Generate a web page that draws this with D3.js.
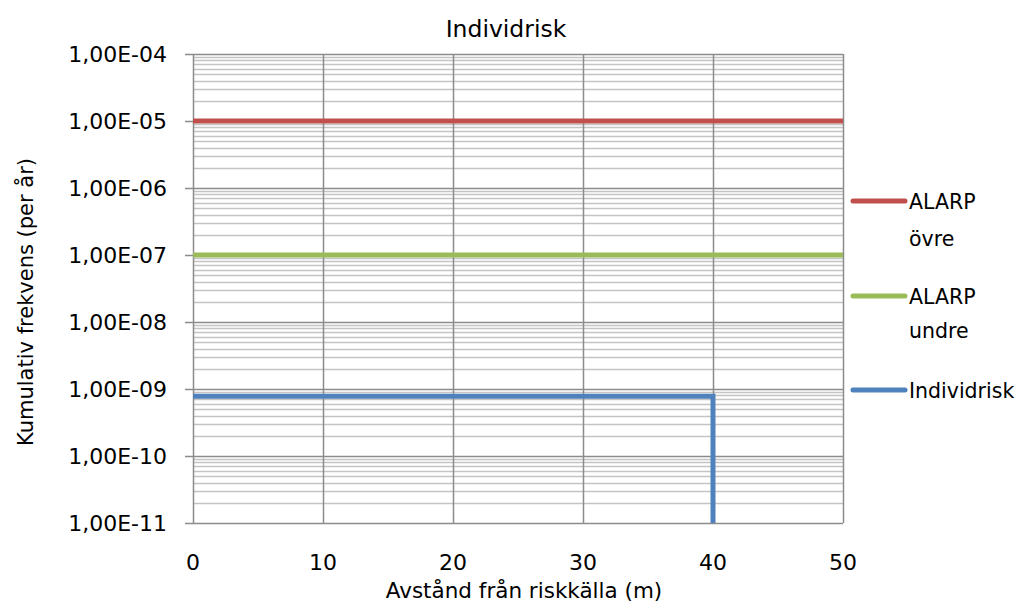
<!doctype html>
<html>
<head>
<meta charset="utf-8" />
<title>Individrisk</title>
<script src="https://d3js.org/d3.v7.min.js"></script>
<style>
  body { margin: 0; background: #fff; }
  svg text { font-family: "DejaVu Sans", sans-serif; fill: #000; }
</style>
</head>
<body>
<svg width="1017" height="609"></svg>
<script>
// data
var xTicks = [0, 10, 20, 30, 40, 50];
var yTicks = [1e-4, 1e-5, 1e-6, 1e-7, 1e-8, 1e-9, 1e-10, 1e-11];
var yTickLabels = ["1,00E-04", "1,00E-05", "1,00E-06", "1,00E-07", "1,00E-08", "1,00E-09", "1,00E-10", "1,00E-11"];
var alarpOvre = [[0, 1e-5], [50, 1e-5]];
var alarpUndre = [[0, 1e-7], [50, 1e-7]];
var individrisk = [[0, 7.8e-10], [40, 7.8e-10], [40, 1e-11]];
var colors = ["#C0504D", "#9BBB59", "#4F81BD"];

var svg = d3.select("svg");
var m = {left: 193, right: 843, top: 54, bottom: 523};

var x = d3.scaleLinear().domain([0, 50]).range([m.left, m.right]);
var y = d3.scaleLog().domain([1e-11, 1e-4]).range([m.bottom, m.top]);

// minor grid lines
var minor = [];
yTicks.slice(1).forEach(function(d) {
    for (var k = 2; k <= 9; k++) minor.push(d * k);
});
svg.append("g").selectAll("line").data(minor).enter().append("line")
  .attr("x1", m.left).attr("x2", m.right)
  .attr("y1", d => Math.round(y(d)) + 0.5).attr("y2", d => Math.round(y(d)) + 0.5)
  .style("stroke", "#c4c4c4").style("stroke-width", 1.5);

// major grid
svg.append("g").selectAll("line").data(yTicks).enter().append("line")
  .attr("x1", m.left - 8).attr("x2", m.right)
  .attr("y1", d => Math.round(y(d)) + 0.5).attr("y2", d => Math.round(y(d)) + 0.5)
  .style("stroke", "#8c8c8c").style("stroke-width", 1.5);

svg.append("g").selectAll("line").data(xTicks).enter().append("line")
  .attr("x1", d => Math.round(x(d)) + 0.5).attr("x2", d => Math.round(x(d)) + 0.5)
  .attr("y1", m.top).attr("y2", m.bottom)
  .style("stroke", "#8c8c8c").style("stroke-width", 1.5);

// tick labels
svg.append("g").selectAll("text").data(yTicks).enter().append("text")
  .attr("x", 167).attr("y", d => y(d) + 8)
  .attr("text-anchor", "end").style("font-size", "22px")
  .text((d, i) => yTickLabels[i]);

svg.append("g").selectAll("text").data(xTicks).enter().append("text")
  .attr("x", d => x(d)).attr("y", 570)
  .attr("text-anchor", "middle").style("font-size", "22px")
  .text(d => d);

// titles
svg.append("text").attr("x", 506).attr("y", 37).attr("text-anchor", "middle")
  .style("font-size", "23.5px").text("Individrisk");
svg.append("text").attr("x", 524).attr("y", 598).attr("text-anchor", "middle")
  .style("font-size", "21.5px").text("Avstånd från riskkälla (m)");
svg.append("text").attr("transform", "translate(33,302) rotate(-90)")
  .attr("text-anchor", "middle").style("font-size", "21px")
  .text("Kumulativ frekvens (per år)");

// series
var line = d3.line().x(d => x(d[0])).y(d => y(d[1]));
[alarpOvre, alarpUndre, individrisk].forEach(function(s, i) {
    svg.append("path").datum(s).attr("d", line)
      .style("fill", "none").style("stroke", colors[i])
      .style("stroke-width", 5).style("stroke-linejoin", "miter");
});

// legend
var legY = [[201, 238], [296, 330], [390]];
var legLines = [["ALARP", "övre"], ["ALARP", "undre"], ["Individrisk"]];
var leg = svg.append("g");
legLines.forEach(function(lines, i) {
    leg.append("line").attr("x1", 853).attr("x2", 905)
      .attr("y1", legY[i][0]).attr("y2", legY[i][0])
      .style("stroke", colors[i]).style("stroke-width", 5).style("stroke-linecap", "round");
    lines.forEach(function(t, j) {
        leg.append("text").attr("x", 909).attr("y", legY[i][j] + 8)
          .style("font-size", "20.5px").text(t);
    });
});
</script>
</body>
</html>
